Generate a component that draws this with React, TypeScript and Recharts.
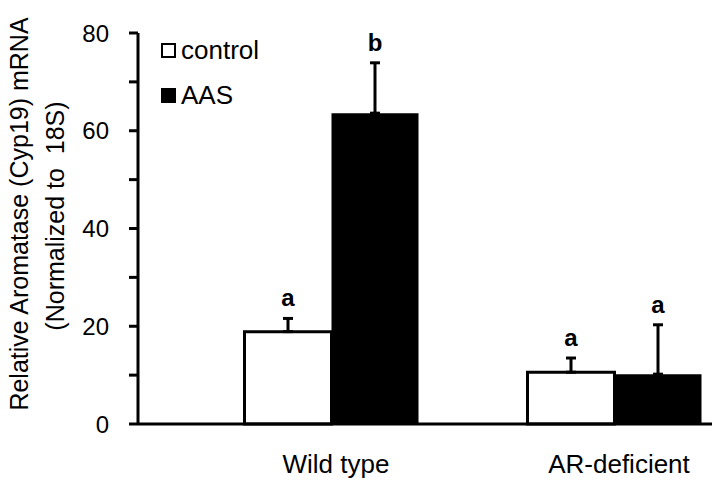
import React from "react";
import { BarChart, Bar, XAxis, YAxis, ErrorBar, LabelList, Legend } from "recharts";

const groups = ["Wild type", "AR-deficient"];
const seriesNames = ["control", "AAS"];
const control = [18.9, 10.6];
const controlErr = [2.7, 2.9];
const controlSig = ["a", "a"];
const aas = [63.6, 10.2];
const aasErr = [10.3, 10.1];
const aasSig = ["b", "a"];
const yTicks = [0, 10, 20, 30, 40, 50, 60, 70, 80];

const FONT = '"Liberation Sans", Arial, sans-serif';

const rows = groups.map((g, i) => ({
  group: g,
  control: control[i],
  controlErr: [0, controlErr[i]],
  controlSig: controlSig[i],
  aas: aas[i],
  aasErr: [0, aasErr[i]],
  aasSig: aasSig[i],
}));

/** Significance letter sitting just above the error bar cap. */
const sigLabel = (vals: number[], errs: number[]) => (props: any) => {
  const vb = props.viewBox ?? props;
  const { x, y, width, height } = vb;
  const i = props.index ?? 0;
  const pxPerUnit = height / vals[i];
  const capY = y - errs[i] * pxPerUnit;
  return (
    <text
      x={x + width / 2}
      y={capY - 12}
      textAnchor="middle"
      fontFamily={FONT}
      fontSize={24}
      fontWeight="bold"
      fill="#000"
    >
      {props.value}
    </text>
  );
};

const yTitle = () => (
  <g fontFamily={FONT} fontSize={25} fill="#000">
    <text x={20} y={206} textAnchor="middle" transform="rotate(-90, 20, 206)">
      Relative Aromatase (Cyp19) mRNA
    </text>
    <text
      x={56}
      y={208}
      textAnchor="middle"
      transform="rotate(-90, 56, 208)"
      style={{ whiteSpace: "pre" }}
    >
      {"(Normalized to  18S)"}
    </text>
  </g>
);

const LegendBox = ({ payload }: any) => {
  const items = [...(payload ?? [])].sort(
    (a: any, b: any) => seriesNames.indexOf(a.value) - seriesNames.indexOf(b.value)
  );
  return (
    <div style={{ fontFamily: FONT, fontSize: 26, color: "#000" }}>
      {items.map((p: any) => (
        <div key={p.value} style={{ display: "flex", alignItems: "center", height: 45 }}>
          <span
            style={{
              width: 11,
              height: 11,
              border: "2px solid #000",
              background: p.value === "AAS" ? "#000" : "#fff",
              marginRight: 5,
            }}
          />
          <span>{p.value}</span>
        </div>
      ))}
    </div>
  );
};

export default function App() {
  return (
    <div style={{ width: 712, height: 472 }}>
      <BarChart
        width={712}
        height={472}
        data={rows}
        margin={{ top: 25, right: 0, bottom: 0, left: 0 }}
        barGap={0}
        barSize={87}
        style={{ fontFamily: FONT }}
      >
        <XAxis
          dataKey="group"
          height={56}
          interval={0}
          padding={{ left: 51.5, right: -35.5 }}
          axisLine={{ stroke: "#000", strokeWidth: 3 }}
          tickLine={false}
          tickSize={0}
          tickMargin={31}
          tick={{ fontSize: 26, fill: "#000", dx: 5 }}
        />
        <YAxis
          width={130}
          domain={[0, 80]}
          ticks={yTicks}
          interval={0}
          tickFormatter={(v: number) => (v % 20 === 0 ? String(v) : "")}
          axisLine={{ stroke: "#000", strokeWidth: 3 }}
          tickLine={{ stroke: "#000", strokeWidth: 3 }}
          tickSize={9}
          tickMargin={20}
          tick={{ fontSize: 24, fill: "#000" }}
          label={yTitle}
        />
        <Legend
          layout="vertical"
          align="center"
          verticalAlign="middle"
          content={<LegendBox />}
          wrapperStyle={{ left: 153, top: 20, width: 160 }}
        />
        <Bar
          dataKey="control"
          name="control"
          fill="#fff"
          stroke="#000"
          strokeWidth={3}
          isAnimationActive={false}
        >
          <ErrorBar dataKey="controlErr" direction="y" width={5} stroke="#000" strokeWidth={3} />
          <LabelList dataKey="controlSig" content={sigLabel(control, controlErr)} />
        </Bar>
        <Bar dataKey="aas" name="AAS" fill="#000" isAnimationActive={false}>
          <ErrorBar dataKey="aasErr" direction="y" width={5} stroke="#000" strokeWidth={3} />
          <LabelList dataKey="aasSig" content={sigLabel(aas, aasErr)} />
        </Bar>
      </BarChart>
    </div>
  );
}
